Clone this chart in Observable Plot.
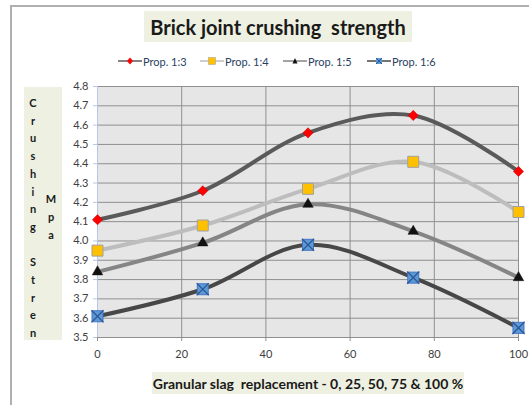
<!DOCTYPE html>
<html>
<head>
<meta charset="utf-8">
<script src="https://cdn.jsdelivr.net/npm/d3@7"></script>
<script src="https://cdn.jsdelivr.net/npm/@observablehq/plot@0.6"></script>
<style>
  html, body { margin: 0; padding: 0; background: #fff; }
  #wrap { position: relative; width: 529px; height: 405px; overflow: hidden; font-family: Lato, "Open Sans", sans-serif; }
  #border { position: absolute; left: 10px; top: 5px; width: 530px; height: 420px; border-left: 2px solid #b0b0b0; border-top: 2px solid #b0b0b0; box-sizing: border-box; }
  #chart { position: absolute; left: 0; top: 0; }
  .box { position: absolute; background: #eef0e1; color: #1a1a1a; font-weight: bold; display: flex; align-items: center; justify-content: center; white-space: pre; }
  #title { left: 144px; top: 11px; width: 268px; height: 31px; font-size: 20px; }
  #xtitle { left: 152px; top: 372px; width: 312px; height: 22px; font-size: 14px; }
  #ytitle { left: 24px; top: 87px; width: 38px; height: 253px; }
  .ych { position: absolute; font-size: 11px; font-weight: bold; color: #1a1a1a; transform: translate(-50%, -50%); }
  #legend { position: absolute; left: 0; top: 54px; width: 529px; height: 16px; }
  .leg { position: absolute; top: 0; display: flex; align-items: center; font-size: 11px; color: #2a3f5f; }
  .leg svg { margin-right: 1px; }
</style>
</head>
<body>
<div id="wrap">
  <div id="border"></div>
  <div id="chart"></div>
  <div id="title" class="box">Brick joint crushing  strength</div>
  <div id="legend"></div>
  <div id="ytitle" class="box"></div>
  <div id="xtitle" class="box">Granular slag  replacement - 0, 25, 50, 75 &amp; 100 %</div>
</div>
<script>
// ---- data ----
const xValues = [0, 25, 50, 75, 100];
const seriesNames = ["Prop. 1:3", "Prop. 1:4", "Prop. 1:5", "Prop. 1:6"];
const prop13 = [4.11, 4.26, 4.56, 4.65, 4.36];
const prop14 = [3.95, 4.08, 4.27, 4.41, 4.15];
const prop15 = [3.84, 3.99, 4.19, 4.05, 3.81];
const prop16 = [3.61, 3.75, 3.98, 3.81, 3.55];
const xTicks = [0, 20, 40, 60, 80, 100];
const yTicks = [3.5, 3.6, 3.7, 3.8, 3.9, 4.0, 4.1, 4.2, 4.3, 4.4, 4.5, 4.6, 4.7, 4.8];
const yTitleCol1 = ["C","r","u","s","h","i","n","g","","S","t","r","e","n"];
const yTitleCol2 = ["M","p","a"];

const seriesValues = [prop13, prop14, prop15, prop16];
const lineColors = ["#5a5a5a", "#bdbdbd", "#858585", "#474747"];

const rows = [];
seriesValues.forEach((vals, i) => vals.forEach((v, j) => rows.push({series: seriesNames[i], x: xValues[j], y: v})));
const bySeries = name => rows.filter(r => r.series === name);

const lineMarks = seriesNames.map((s, i) =>
  Plot.line(bySeries(s), {x: "x", y: "y", stroke: lineColors[i], strokeWidth: 4, curve: "catmull-rom"}));

const chart = Plot.plot({
  width: 529,
  height: 405,
  marginTop: 86,
  marginBottom: 68,
  marginLeft: 97,
  marginRight: 11,
  x: {domain: [0, 100]},
  y: {domain: [3.5, 4.8]},
  style: {fontFamily: "Lato, 'Open Sans', sans-serif", fontSize: "11px", color: "#404040", background: "transparent", overflow: "visible"},
  marks: [
    Plot.frame({fill: "#e6e6e6", stroke: "none"}),
    Plot.gridY(yTicks, {stroke: "#8f8f8f", strokeOpacity: 1}),
    Plot.gridX(xTicks, {stroke: "#8f8f8f", strokeOpacity: 1}),
    Plot.frame({stroke: "#8f8f8f"}),
    Plot.ruleX([0], {stroke: "#b4c7e7"}),
    Plot.axisY(yTicks, {tickFormat: d => d.toFixed(1), tickSize: 4, tickPadding: 5, stroke: "#b4c7e7", label: null}),
    Plot.axisX(xTicks, {tickSize: 4, tickPadding: 9, stroke: "#8f8f8f", label: null}),
    ...lineMarks,
    Plot.dot(bySeries("Prop. 1:3"), {x: "x", y: "y", symbol: "diamond2", r: 4.6, fill: "#ff0000", stroke: "#c00000", strokeWidth: 0.5}),
    Plot.dot(bySeries("Prop. 1:4"), {x: "x", y: "y", symbol: "square", r: 6.2, fill: "#ffc000", stroke: "#a0a0a0", strokeWidth: 1}),
    Plot.dot(bySeries("Prop. 1:5"), {x: "x", y: "y", symbol: "triangle", r: 3.9, fill: "#111", stroke: "#111", strokeWidth: 0.5}),
    Plot.dot(bySeries("Prop. 1:6"), {x: "x", y: "y", symbol: "square", r: 6.2, fill: "#5b9bd5", stroke: "#4472c4", strokeWidth: 1}),
    Plot.dot(bySeries("Prop. 1:6"), {x: "x", y: "y", symbol: "times", r: 5.6, stroke: "#2f5597", strokeWidth: 1.3})
  ]
});
document.getElementById("chart").appendChild(chart);

// ---- y-axis title letters ----
const yt = document.getElementById("ytitle");
yTitleCol1.forEach((c, i) => {
  if (!c) return;
  const d = document.createElement("div");
  d.className = "ych"; d.textContent = c;
  d.style.left = "9px"; d.style.top = (15 + i * 17.7) + "px";
  yt.appendChild(d);
});
yTitleCol2.forEach((c, i) => {
  const d = document.createElement("div");
  d.className = "ych"; d.textContent = c;
  d.style.left = "27px"; d.style.top = (111 + i * 18) + "px";
  yt.appendChild(d);
});

// ---- legend ----
const legend = document.getElementById("legend");
const legLeft = [118, 200, 283, 367];
const legSym = [
  '<path d="M12,3.5 L15,7 L12,10.5 L9,7 Z" fill="#ff0000"/>',
  '<rect x="8.5" y="3.5" width="7" height="7" fill="#ffc000" stroke="#a0a0a0" stroke-width="0.5"/>',
  '<path d="M12,4 L14.5,9.5 L9.5,9.5 Z" fill="#111"/>',
  '<rect x="9" y="4" width="6" height="6" fill="#5b9bd5"/><path d="M9,4 L15,10 M15,4 L9,10" stroke="#2f5597" stroke-width="1"/>'
];
seriesNames.forEach((s, i) => {
  const item = document.createElement("div");
  item.className = "leg";
  item.style.left = legLeft[i] + "px";
  item.innerHTML = `<svg width="24" height="14"><line x1="0" y1="7" x2="24" y2="7" stroke="${lineColors[i]}" stroke-width="1.5"/>${legSym[i]}</svg><span>${s}</span>`;
  legend.appendChild(item);
});
</script>
</body>
</html>
